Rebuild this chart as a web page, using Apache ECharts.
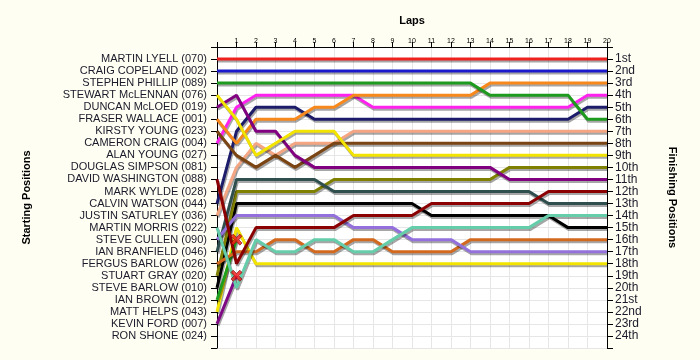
<!DOCTYPE html>
<html><head><meta charset="utf-8">
<script src="https://cdn.jsdelivr.net/npm/echarts@6/dist/echarts.min.js"></script>
<style>html,body{margin:0;padding:0;background:#fffef2}#c{width:700px;height:360px}</style>
</head><body><div id="c"></div>
<script>
// ---- data ----
const startNames = ["MARTIN LYELL (070)","CRAIG COPELAND (002)","STEPHEN PHILLIP (089)","STEWART McLENNAN (076)","DUNCAN McLOED (019)","FRASER WALLACE (001)","KIRSTY YOUNG (023)","CAMERON CRAIG (004)","ALAN YOUNG (027)","DOUGLAS SIMPSON (081)","DAVID WASHINGTON (088)","MARK WYLDE (028)","CALVIN WATSON (044)","JUSTIN SATURLEY (036)","MARTIN MORRIS (022)","STEVE CULLEN (090)","IAN BRANFIELD (046)","FERGUS BARLOW (026)","STUART GRAY (020)","STEVE BARLOW (010)","IAN BROWN (012)","MATT HELPS (043)","KEVIN FORD (007)","RON SHONE (024)"];
const finishLabels = ["1st","2nd","3rd","4th","5th","6th","7th","8th","9th","10th","11th","12th","13th","14th","15th","16th","17th","18th","19th","20th","21st","22nd","23rd","24th"];
const lapLabels = ["1","2","3","4","5","6","7","8","9","10","11","12","13","14","15","16","17","18","19","20"];

// positions per lap (index = lap 0..20)
const posRed      = [1,1,1,1,1,1,1,1,1,1,1,1,1,1,1,1,1,1,1,1,1];
const posBlue     = [2,2,2,2,2,2,2,2,2,2,2,2,2,2,2,2,2,2,2,2,2];
const posGreen    = [3,3,3,3,3,3,3,3,3,3,3,3,3,3,4,4,4,4,4,6,6];
const posYellow   = [4,6,9,8,7,7,7,9,9,9,9,9,9,9,9,9,9,9,9,9,9];
const posPurple   = [5,4,7,7,9,10,10,10,10,10,10,10,10,10,10,11,11,11,11,11,11];
const posOrange   = [6,8,6,6,6,5,5,4,4,4,4,4,4,4,3,3,3,3,3,3,3];
const posBrown    = [7,9,10,9,10,9,8,8,8,8,8,8,8,8,8,8,8,8,8,8,8];
const posMagenta  = [8,5,4,4,4,4,4,4,5,5,5,5,5,5,5,5,5,5,5,4,4];
const posDarkRed  = [11,18,15,15,15,15,15,14,14,14,14,13,13,13,13,13,13,12,12,12,12];
const posNavy     = [13,7,5,5,5,6,6,6,6,6,6,6,6,6,6,6,6,6,6,5,5];
const posSalmon   = [14,10,8,9,8,8,8,7,7,7,7,7,7,7,7,7,7,7,7,7,7];
const posTeal     = [15,20,16,17,17,16,16,17,17,16,15,15,15,15,15,15,15,14,14,14,14];
const posLavender = [16,14,14,14,14,14,14,15,15,15,16,16,16,17,17,17,17,17,17,17,17];
const posSlate    = [17,11,11,11,11,11,12,12,12,12,12,12,12,12,12,12,12,13,13,13,13];
const posChoc     = [18,17,17,16,16,17,17,16,16,17,17,17,17,16,16,16,16,16,16,16,16];
const posOlive    = [19,12,12,12,12,12,11,11,11,11,11,11,11,11,11,10,10,10,10,10,10];
const posBlack    = [20,13,13,13,13,13,13,13,13,13,13,14,14,14,14,14,14,14,15,15,15];
const posGreen2   = [21,16];
const posYellow2  = [22,15,18,18,18,18,18,18,18,18,18,18,18,18,18,18,18,18,18,18,18];
const posPurple2  = [23,19];

const drivers = [
  ["MATT HELPS", posYellow2, "#f2e400"],
  ["KEVIN FORD", posPurple2, "#7f0a84"],
  ["IAN BROWN", posGreen2, "#1ea01e"],
  ["STEVE BARLOW", posBlack, "#000000"],
  ["STUART GRAY", posOlive, "#808000"],
  ["FERGUS BARLOW", posChoc, "#d2691e"],
  ["IAN BRANFIELD", posSlate, "#2f4f4f"],
  ["STEVE CULLEN", posLavender, "#9370db"],
  ["MARTIN MORRIS", posTeal, "#66cdaa"],
  ["JUSTIN SATURLEY", posSalmon, "#f4a582"],
  ["CALVIN WATSON", posNavy, "#1c1c6a"],
  ["DAVID WASHINGTON", posDarkRed, "#8b0000"],
  ["CAMERON CRAIG", posMagenta, "#ff22ee"],
  ["KIRSTY YOUNG", posBrown, "#7b4513"],
  ["FRASER WALLACE", posOrange, "#f7881c"],
  ["DUNCAN McLOED", posPurple, "#800080"],
  ["STEWART McLENNAN", posYellow, "#f2e400"],
  ["STEPHEN PHILLIP", posGreen, "#1e9a1e"],
  ["CRAIG COPELAND", posBlue, "#1a1acc"],
  ["MARTIN LYELL", posRed, "#ee2020"]
];
const retired = [posGreen2, posPurple2];

// ---- chart ----
const chart = echarts.init(document.getElementById('c'), null, {renderer: 'canvas'});
const series = drivers.map(d => ({
  name: d[0], type: 'line', symbol: 'none', silent: true,
  data: d[1].map((p, lap) => [lap, p]),
  lineStyle: {width: 3, color: d[2], shadowColor: 'rgba(0,0,0,0.35)', shadowOffsetX: 1, shadowOffsetY: 2, shadowBlur: 0},
  z: 2
}));
series.push({
  type: 'scatter', z: 5,
  symbol: 'path://M2,0 L5,3 L8,0 L10,2 L7,5 L10,8 L8,10 L5,7 L2,10 L0,8 L3,5 L0,2 Z',
  symbolSize: 11,
  itemStyle: {color: '#f01515', borderColor: '#7a0000', borderWidth: 0.8},
  data: retired.map(r => [r.length - 1, r[r.length - 1]])
});

const txt = '#1a1a2a';
chart.setOption({
  animation: false,
  backgroundColor: '#fffef2',
  textStyle: {fontFamily: 'Liberation Sans, Arial, sans-serif'},
  grid: {left: 217, right: 93, top: 47, bottom: 12, show: true, backgroundColor: '#ffffff', borderWidth: 0},
  xAxis: {
    type: 'value', position: 'top', min: 0, max: 20, interval: 1,
    axisLine: {show: true, lineStyle: {color: '#000', width: 1}},
    axisTick: {show: true, length: 5, lineStyle: {color: '#000'}},
    axisLabel: {fontSize: 7, color: '#000', margin: 2, formatter: v => v === 0 ? '' : lapLabels[v - 1]},
    splitLine: {show: true, lineStyle: {color: '#e6e6e6', width: 1}},
    name: 'Laps', nameLocation: 'middle', nameGap: 21,
    nameTextStyle: {fontWeight: 'bold', fontSize: 11, color: '#000'}
  },
  yAxis: [{
    type: 'value', inverse: true, min: 0, max: 25, interval: 1, position: 'left',
    axisLine: {show: true, onZero: false, lineStyle: {color: '#000', width: 1}},
    axisTick: {show: true, length: 6, lineStyle: {color: '#000'}},
    axisLabel: {fontSize: 11, color: txt, margin: 10, formatter: v => startNames[v - 1] || ''},
    splitLine: {show: true, lineStyle: {color: '#e6e6e6', width: 1}},
    name: 'Starting Positions', nameLocation: 'middle', nameGap: 185, nameRotate: 90,
    nameTextStyle: {fontWeight: 'bold', fontSize: 11, color: '#000'}
  }, {
    type: 'value', inverse: true, min: 0, max: 25, interval: 1, position: 'right',
    axisLine: {show: true, onZero: false, lineStyle: {color: '#000', width: 1}},
    axisTick: {show: true, length: 6, lineStyle: {color: '#000'}},
    axisLabel: {fontSize: 12, color: txt, margin: 8, formatter: v => finishLabels[v - 1] || ''},
    splitLine: {show: false},
    name: 'Finishing Positions', nameLocation: 'middle', nameGap: 60, nameRotate: -90,
    nameTextStyle: {fontWeight: 'bold', fontSize: 11, color: '#000'}
  }],
  series: series
});
</script></body></html>
